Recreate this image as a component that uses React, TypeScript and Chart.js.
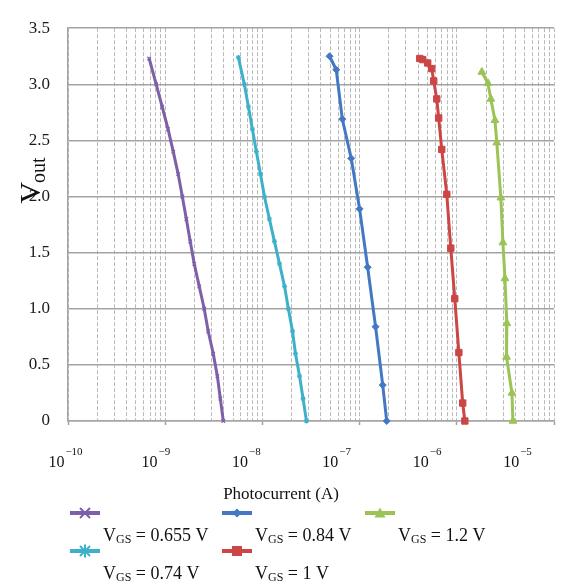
import React, { useEffect, useRef } from 'react';
import { Chart, registerables } from 'chart.js';

Chart.register(...registerables);

const FONT = '"Liberation Serif", "Times New Roman", serif';

// ---- data ----
const PURPLE_V = [3.23, 3.0, 2.8, 2.6, 2.4, 2.2, 2.0, 1.8, 1.6, 1.4, 1.2, 1.0, 0.8, 0.6, 0.4, 0.2, 0];
const PURPLE_I = [6.84e-10, 8.08e-10, 9.31e-10, 1.07e-9, 1.21e-9, 1.36e-9, 1.5e-9, 1.65e-9, 1.81e-9, 1.99e-9, 2.24e-9, 2.52e-9, 2.77e-9, 3.12e-9, 3.44e-9, 3.69e-9, 3.96e-9];

const CYAN_V = [3.24, 3.0, 2.8, 2.6, 2.4, 2.2, 2.0, 1.8, 1.6, 1.4, 1.2, 1.0, 0.8, 0.6, 0.4, 0.2, 0];
const CYAN_I = [5.66e-9, 6.52e-9, 7.18e-9, 7.89e-9, 8.68e-9, 9.55e-9, 1.05e-8, 1.18e-8, 1.33e-8, 1.5e-8, 1.69e-8, 1.85e-8, 2.04e-8, 2.19e-8, 2.41e-8, 2.62e-8, 2.84e-8];

const BLUE_V = [3.25, 3.13, 2.69, 2.34, 1.89, 1.37, 0.84, 0.32, 0];
const BLUE_I = [4.91e-8, 5.75e-8, 6.64e-8, 8.2e-8, 1.0e-7, 1.21e-7, 1.46e-7, 1.73e-7, 1.9e-7];

const RED_V = [3.23, 3.22, 3.19, 3.14, 3.03, 2.87, 2.7, 2.42, 2.02, 1.54, 1.09, 0.61, 0.16, 0];
const RED_I = [4.16e-7, 4.46e-7, 5.02e-7, 5.52e-7, 5.79e-7, 6.22e-7, 6.51e-7, 7.0e-7, 7.89e-7, 8.67e-7, 9.53e-7, 1.05e-6, 1.15e-6, 1.21e-6];

const GREEN_V = [3.11, 3.01, 2.87, 2.68, 2.48, 1.99, 1.59, 1.27, 0.87, 0.57, 0.25, 0];
const GREEN_I = [1.81e-6, 2.09e-6, 2.24e-6, 2.47e-6, 2.58e-6, 2.84e-6, 2.98e-6, 3.13e-6, 3.27e-6, 3.25e-6, 3.69e-6, 3.78e-6];

const SERIES_VGS = ['0.655', '0.74', '0.84', '1', '1.2'];
const SERIES_V = [PURPLE_V, CYAN_V, BLUE_V, RED_V, GREEN_V];
const SERIES_I = [PURPLE_I, CYAN_I, BLUE_I, RED_I, GREEN_I];

const X_DECADES = [-10, -9, -8, -7, -6, -5];
const Y_MIN = 0;
const Y_MAX = 3.5;
const Y_STEP = 0.5;

// ---- styles ----
const COLORS = ['#7E60A8', '#3FB0C9', '#4379C3', '#CC4646', '#9BC356'];
const MARKERS = ['crossRot', 'star', 'rectRot', 'rect', 'triangle'];
const MARKER_R = [2.5, 2.5, 3.5, 4.5, 4.5];
const LEGEND_MARKER_R = [5, 5, 4.5, 5, 5.5];
const LEGEND_COL_X = [70, 222, 365];
const LEGEND_ROW_Y = [513, 551];
const LEGEND_SLOT = [[0, 0], [0, 1], [1, 0], [1, 1], [2, 0]];

function drawMarker(ctx: CanvasRenderingContext2D, style: string, x: number, y: number, r: number, color: string) {
  ctx.save();
  ctx.fillStyle = color;
  ctx.strokeStyle = color;
  ctx.lineWidth = 2;
  ctx.beginPath();
  if (style === 'crossRot') {
    ctx.moveTo(x - r, y - r); ctx.lineTo(x + r, y + r);
    ctx.moveTo(x - r, y + r); ctx.lineTo(x + r, y - r);
    ctx.stroke();
  } else if (style === 'star') {
    ctx.moveTo(x - r, y - r); ctx.lineTo(x + r, y + r);
    ctx.moveTo(x - r, y + r); ctx.lineTo(x + r, y - r);
    ctx.moveTo(x, y - r * 1.3); ctx.lineTo(x, y + r * 1.3);
    ctx.stroke();
  } else if (style === 'rectRot') {
    ctx.moveTo(x, y - r); ctx.lineTo(x + r, y); ctx.lineTo(x, y + r); ctx.lineTo(x - r, y); ctx.closePath();
    ctx.fill();
  } else if (style === 'rect') {
    ctx.rect(x - r, y - r, 2 * r, 2 * r);
    ctx.fill();
  } else if (style === 'triangle') {
    ctx.moveTo(x, y - r); ctx.lineTo(x + r, y + r * 0.8); ctx.lineTo(x - r, y + r * 0.8); ctx.closePath();
    ctx.fill();
  }
  ctx.restore();
}

const decorPlugin = {
  id: 'decor',
  afterDraw(chart: any) {
    const ctx: CanvasRenderingContext2D = chart.ctx;
    const xs = chart.scales.x;
    const area = chart.chartArea;
    ctx.save();
    ctx.fillStyle = '#111';
    ctx.textBaseline = 'alphabetic';
    ctx.textAlign = 'left';

    // x tick labels 10^n
    X_DECADES.forEach((e) => {
      const px = xs.getPixelForValue(Math.pow(10, e));
      const cx = area.left - 3 + (px - area.left) * 0.93;
      ctx.font = `16px ${FONT}`;
      const w1 = ctx.measureText('10').width;
      ctx.font = `11px ${FONT}`;
      const sup = '\u2212' + String(-e);
      const w2 = ctx.measureText(sup).width;
      const x0 = cx - (w1 + w2) / 2;
      ctx.font = `16px ${FONT}`;
      ctx.fillText('10', x0, 467);
      ctx.font = `11px ${FONT}`;
      ctx.fillText(sup, x0 + w1 + 1, 455);
    });

    // x title
    ctx.font = `17px ${FONT}`;
    ctx.textAlign = 'center';
    ctx.fillText('Photocurrent (A)', 281, 499);

    // y title V_out (rotated)
    ctx.save();
    ctx.translate(40, 180);
    ctx.rotate(-Math.PI / 2);
    ctx.textAlign = 'left';
    ctx.font = `30px ${FONT}`;
    const wv = ctx.measureText('V').width;
    ctx.font = `20px ${FONT}`;
    const wo = ctx.measureText('out').width;
    const sx = -(wv + wo) / 2;
    ctx.font = `30px ${FONT}`;
    ctx.fillText('V', sx, 0);
    ctx.font = `20px ${FONT}`;
    ctx.fillText('out', sx + wv - 1, 5);
    ctx.restore();

    // legend
    SERIES_VGS.forEach((vgs, i) => {
      const [c, r] = LEGEND_SLOT[i];
      const x0 = LEGEND_COL_X[c];
      const y0 = LEGEND_ROW_Y[r];
      ctx.save();
      ctx.strokeStyle = COLORS[i];
      ctx.lineWidth = 4;
      ctx.beginPath();
      ctx.moveTo(x0, y0);
      ctx.lineTo(x0 + 30, y0);
      ctx.stroke();
      ctx.restore();
      drawMarker(ctx, MARKERS[i], x0 + 15, y0, LEGEND_MARKER_R[i], COLORS[i]);

      ctx.textAlign = 'left';
      const ty = y0 + 28;
      let tx = x0 + 33;
      ctx.font = `18px ${FONT}`;
      ctx.fillText('V', tx, ty);
      tx += ctx.measureText('V').width;
      ctx.font = `12px ${FONT}`;
      ctx.fillText('GS', tx, ty + 2);
      tx += ctx.measureText('GS').width;
      ctx.font = `18px ${FONT}`;
      ctx.fillText(` = ${vgs} V`, tx, ty);
    });
    ctx.restore();
  },
};

function isDecade(v: number) {
  const l = Math.log10(v);
  return Math.abs(l - Math.round(l)) < 1e-6;
}

export default function App() {
  const ref = useRef<HTMLCanvasElement | null>(null);

  useEffect(() => {
    document.body.style.margin = '0';
    const canvas = ref.current;
    if (!canvas) return;

    const datasets = SERIES_VGS.map((vgs, i) => ({
      label: `VGS = ${vgs} V`,
      data: SERIES_I[i].map((x, k) => ({ x, y: SERIES_V[i][k] })),
      borderColor: COLORS[i],
      backgroundColor: COLORS[i],
      borderWidth: 3,
      pointStyle: MARKERS[i] as any,
      pointRadius: MARKER_R[i],
      pointBorderWidth: i < 2 ? 1.2 : 1,
      pointBackgroundColor: COLORS[i],
      pointBorderColor: COLORS[i],
      showLine: true,
      tension: 0,
      fill: false,
      clip: false as any,
    }));

    const minorTicks: number[] = [];
    for (let d = 0; d < X_DECADES.length - 1; d++) {
      for (let m = 1; m <= 9; m++) minorTicks.push(m * Math.pow(10, X_DECADES[d]));
    }
    minorTicks.push(Math.pow(10, X_DECADES[X_DECADES.length - 1]));

    const chart = new Chart(canvas, {
      type: 'scatter',
      data: { datasets },
      plugins: [decorPlugin],
      options: {
        animation: false,
        responsive: true,
        maintainAspectRatio: false,
        layout: { padding: { top: 14, right: 20, left: 0, bottom: 0 } },
        plugins: { legend: { display: false }, tooltip: { enabled: false } },
        scales: {
          x: {
            type: 'logarithmic',
            min: Math.pow(10, X_DECADES[0]),
            max: Math.pow(10, X_DECADES[X_DECADES.length - 1]),
            afterBuildTicks: (scale: any) => {
              scale.ticks = minorTicks.map((v) => ({ value: v }));
            },
            afterFit: (scale: any) => {
              scale.height = 162;
            },
            ticks: { callback: () => '', autoSkip: false, maxRotation: 0 },
            grid: {
              color: '#b9b9b9',
              lineWidth: 1,
              drawTicks: true,
              tickLength: 4,
              tickWidth: 1.5,
              tickColor: (c: any) => (c.tick && isDecade(c.tick.value) ? '#a0a0a0' : 'rgba(0,0,0,0)'),
              tickBorderDash: [],
            } as any,
            border: { display: true, color: '#a6a6a6', width: 1.5, dash: [4, 2] },
          },
          y: {
            min: Y_MIN,
            max: Y_MAX,
            afterFit: (scale: any) => {
              scale.width = 68;
            },
            ticks: {
              stepSize: Y_STEP,
              padding: 18,
              color: '#1a1a1a',
              font: { family: FONT, size: 17 },
              callback: (v: any) => (Number(v) === 0 ? '0' : Number(v).toFixed(1)),
            },
            grid: { color: '#a3a3a3', lineWidth: 1.5, drawTicks: false },
            border: { display: true, color: '#a3a3a3', width: 1.5 },
          },
        },
      },
    });
    return () => chart.destroy();
  }, []);

  return (
    <div style={{ position: 'relative', width: 574, height: 583 }}>
      <canvas ref={ref} style={{ display: 'block' }} />
    </div>
  );
}
